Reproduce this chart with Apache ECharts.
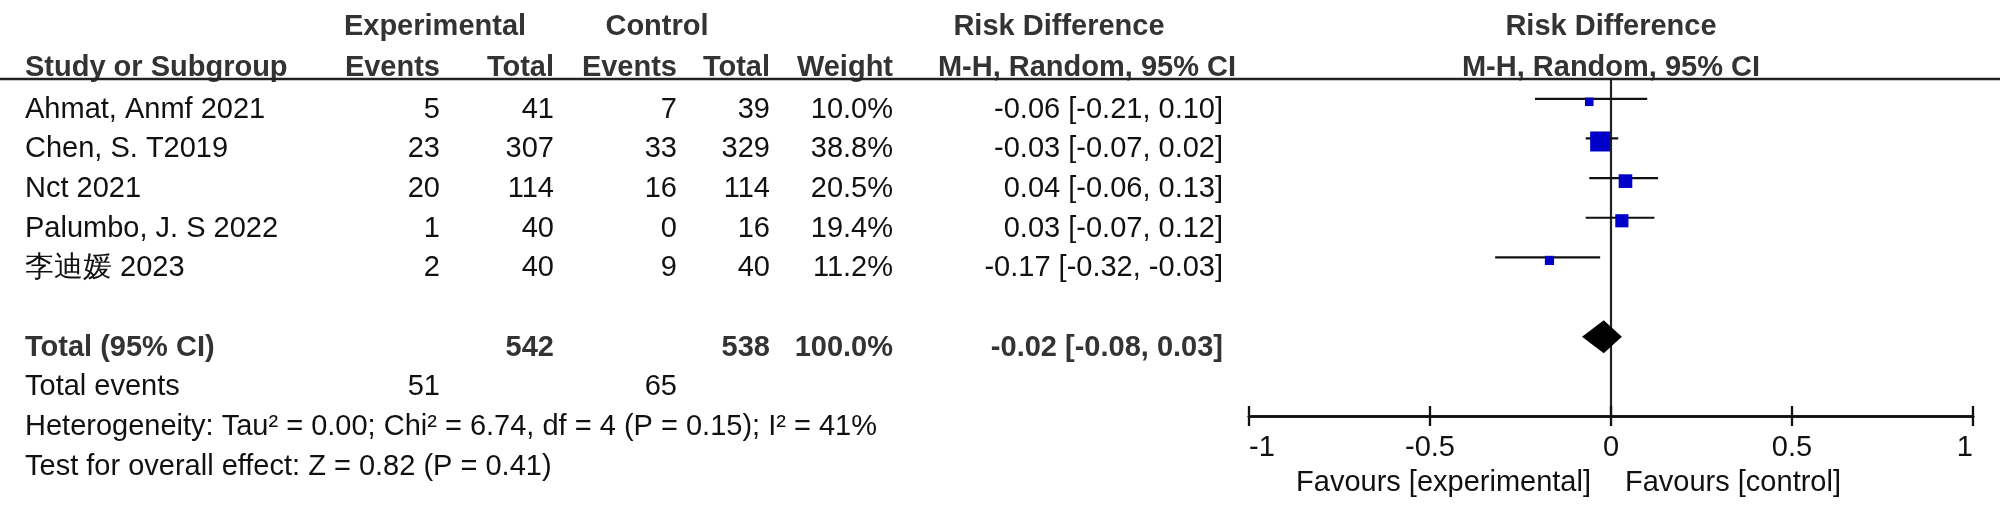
<!DOCTYPE html>
<html>
<head>
<meta charset="utf-8">
<script src="https://cdn.jsdelivr.net/npm/echarts@6/dist/echarts.min.js"></script>
<style>
html,body{margin:0;padding:0;background:#fff;}
#chart{width:2000px;height:515px;}
</style>
</head>
<body>
<div id="chart"></div>
<script>
// ---------------- data ----------------
const studies = ['Ahmat, Anmf 2021', 'Chen, S. T2019', 'Nct 2021', 'Palumbo, J. S 2022', '李迪媛 2023'];
const expEvents = [5, 23, 20, 1, 2];
const expTotal = [41, 307, 114, 40, 40];
const ctrlEvents = [7, 33, 16, 0, 9];
const ctrlTotal = [39, 329, 114, 16, 40];
const weights = [10.0, 38.8, 20.5, 19.4, 11.2];
const rd = [-0.06, -0.03, 0.04, 0.03, -0.17];
const ciLow = [-0.21, -0.07, -0.06, -0.07, -0.32];
const ciHigh = [0.10, 0.02, 0.13, 0.12, -0.03];
const totalLabel = 'Total (95% CI)';
const totalExp = 542;
const totalCtrl = 538;
const totalWeight = 100.0;
const pooledRd = -0.02;
const pooledLow = -0.08;
const pooledHigh = 0.03;
const totalEventsExp = 51;
const totalEventsCtrl = 65;
const heterogeneityText = 'Heterogeneity: Tau² = 0.00; Chi² = 6.74, df = 4 (P = 0.15); I² = 41%';
const overallText = 'Test for overall effect: Z = 0.82 (P = 0.41)';
const xTicks = [-1, -0.5, 0, 0.5, 1];
const favoursLeft = 'Favours [experimental]';
const favoursRight = 'Favours [control]';

// ---------------- layout ----------------
const FONT = "'Liberation Sans', Arial, Helvetica, sans-serif";
const FS = 29;
const COL = {name: 25, expEv: 440, expTot: 554, ctlEv: 677, ctlTot: 770, weight: 893, ci: 1223, expHead: 435, ctlHead: 657, rdHead: 1059, rdHead2: 1236, forest: 1611};
const ROW_TEXT_OFFSET = 11;

const fmt2 = v => v.toFixed(2);
const ciText = (m, l, h) => fmt2(m) + ' [' + fmt2(l) + ', ' + fmt2(h) + ']';

function cell(text, x, align, bold) { return {text: String(text), x, align, bold: !!bold}; }

const tableRows = [];
tableRows.push({row: -2.1, cells: [
  cell('Experimental', COL.expHead, 'center', true),
  cell('Control', COL.ctlHead, 'center', true),
  cell('Risk Difference', COL.rdHead, 'center', true),
  cell('Risk Difference', COL.forest, 'center', true)
]});
tableRows.push({row: -1.05, cells: [
  cell('Study or Subgroup', COL.name, 'left', true),
  cell('Events', COL.expEv, 'right', true),
  cell('Total', COL.expTot, 'right', true),
  cell('Events', COL.ctlEv, 'right', true),
  cell('Total', COL.ctlTot, 'right', true),
  cell('Weight', COL.weight, 'right', true),
  cell('M-H, Random, 95% CI', COL.rdHead2, 'right', true),
  cell('M-H, Random, 95% CI', COL.forest, 'center', true)
]});
studies.forEach((s, i) => {
  tableRows.push({row: i, cells: [
    cell(s, COL.name, 'left'),
    cell(expEvents[i], COL.expEv, 'right'),
    cell(expTotal[i], COL.expTot, 'right'),
    cell(ctrlEvents[i], COL.ctlEv, 'right'),
    cell(ctrlTotal[i], COL.ctlTot, 'right'),
    cell(weights[i].toFixed(1) + '%', COL.weight, 'right'),
    cell(ciText(rd[i], ciLow[i], ciHigh[i]), COL.ci, 'right')
  ]});
});
const totalRow = studies.length + 1;
tableRows.push({row: totalRow, cells: [
  cell(totalLabel, COL.name, 'left', true),
  cell(totalExp, COL.expTot, 'right', true),
  cell(totalCtrl, COL.ctlTot, 'right', true),
  cell(totalWeight.toFixed(1) + '%', COL.weight, 'right', true),
  cell(ciText(pooledRd, pooledLow, pooledHigh), COL.ci, 'right', true)
]});
tableRows.push({row: totalRow + 1, cells: [
  cell('Total events', COL.name, 'left'),
  cell(totalEventsExp, COL.expEv, 'right'),
  cell(totalEventsCtrl, COL.ctlEv, 'right')
]});
tableRows.push({row: totalRow + 2, cells: [cell(heterogeneityText, COL.name, 'left')]});
tableRows.push({row: totalRow + 3, cells: [cell(overallText, COL.name, 'left')]});

const chart = echarts.init(document.getElementById('chart'), null, {renderer: 'canvas'});

const axisCommon = {
  type: 'value', min: -1, max: 1, interval: 0.5, position: 'bottom',
  splitLine: {show: false},
  axisLine: {show: true, onZero: false, lineStyle: {color: '#111', width: 2.7}}
};

const option = {
  backgroundColor: '#fff',
  animation: false,
  grid: {left: 1249, right: 27, top: 79, bottom: 99, containLabel: false},
  xAxis: [
    Object.assign({}, axisCommon, {
      axisTick: {show: true, length: 10, lineStyle: {color: '#111', width: 2.3}},
      axisLabel: {show: true, margin: 17, fontSize: FS, color: '#111', fontFamily: FONT,
        alignMinLabel: 'left', alignMaxLabel: 'right',
        formatter: v => (xTicks.indexOf(v) >= 0 ? String(v) : '')}
    }),
    Object.assign({}, axisCommon, {
      axisTick: {show: true, inside: true, length: 10, lineStyle: {color: '#111', width: 2.3}},
      axisLabel: {show: false}
    })
  ],
  yAxis: {
    type: 'value', min: -0.5, max: 8, inverse: true,
    splitLine: {show: false}, axisLabel: {show: false}, axisTick: {show: false},
    axisLine: {show: true, onZero: true, lineStyle: {color: '#222', width: 2.2}}
  },
  graphic: [
    {type: 'line', shape: {x1: 0, y1: 79, x2: 2000, y2: 79}, style: {stroke: '#222', lineWidth: 2.7}, z: 10},
    {type: 'text', x: 1591, y: 483, style: {text: favoursLeft, font: FS + 'px ' + FONT, fill: '#111', align: 'right', verticalAlign: 'middle'}},
    {type: 'text', x: 1625, y: 483, style: {text: favoursRight, font: FS + 'px ' + FONT, fill: '#111', align: 'left', verticalAlign: 'middle'}}
  ],
  series: [
    {
      type: 'custom', name: 'studies', xAxisIndex: 0, clip: false,
      data: studies.map((s, i) => [i, rd[i], ciLow[i], ciHigh[i], weights[i]]),
      encode: {x: [1, 2, 3], y: 0},
      renderItem: function (params, api) {
        const row = api.value(0);
        const p = api.coord([api.value(1), row]);
        const l = api.coord([api.value(2), row]);
        const h = api.coord([api.value(3), row]);
        const s = 3.75 * Math.sqrt(api.value(4)) - 3.35;
        return {type: 'group', children: [
          {type: 'line', shape: {x1: l[0], y1: l[1], x2: h[0], y2: h[1]}, style: {stroke: '#111', lineWidth: 2.2}},
          {type: 'rect', shape: {x: p[0] - s / 2, y: p[1] - s / 2 + 3, width: s, height: s}, style: {fill: '#0000c8'}}
        ]};
      }
    },
    {
      type: 'custom', name: 'pooled', xAxisIndex: 0, clip: false,
      data: [[totalRow, pooledRd, pooledLow, pooledHigh]],
      encode: {x: [1, 2, 3], y: 0},
      renderItem: function (params, api) {
        const row = api.value(0);
        const m = api.coord([api.value(1), row]);
        const l = api.coord([api.value(2), row]);
        const h = api.coord([api.value(3), row]);
        const hh = 16.5;
        return {type: 'polygon', shape: {points: [[l[0], m[1]], [m[0], m[1] - hh], [h[0], m[1]], [m[0], m[1] + hh]]}, style: {fill: '#000'}};
      }
    },
    {
      type: 'custom', name: 'table', xAxisIndex: 0, clip: false, silent: true,
      data: tableRows.map((r, i) => [0, r.row, i]),
      encode: {x: 0, y: 1},
      renderItem: function (params, api) {
        const r = tableRows[api.value(2)];
        const y = api.coord([0, api.value(1)])[1] + ROW_TEXT_OFFSET;
        return {type: 'group', children: r.cells.map(c => ({
          type: 'text', x: c.x, y: y,
          style: {text: c.text, font: (c.bold ? 'bold ' : '') + FS + 'px ' + FONT, fill: c.bold ? '#333' : '#111', align: c.align, verticalAlign: 'middle'}
        }))};
      }
    }
  ]
};
chart.setOption(option);
</script>
</body>
</html>
